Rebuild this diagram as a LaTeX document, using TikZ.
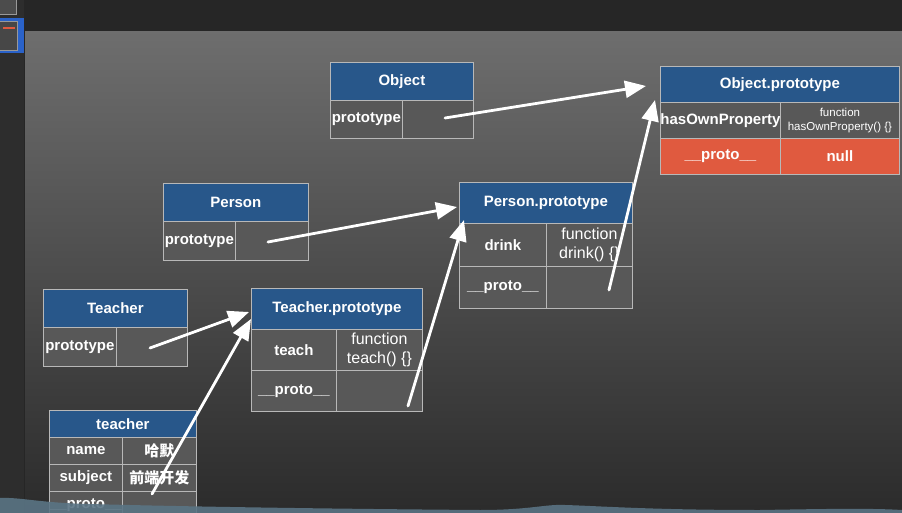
\documentclass[tikz,border=0pt]{standalone}
\usepackage{fontspec}
\setmainfont{Liberation Sans}
\newfontfamily\cjk{Noto Sans CJK SC}
\usetikzlibrary{arrows.meta, calc}
\definecolor{hblue}{HTML}{28578A}
\definecolor{cellg}{HTML}{585858}
\definecolor{lineg}{HTML}{B8B8B8}
\definecolor{cred}{HTML}{E05A3F}
\definecolor{barg}{HTML}{262626}
\definecolor{sideg}{HTML}{2D2D2D}
\definecolor{selblue}{HTML}{2A62C9}
\definecolor{wave}{HTML}{5A7484}
\tikzset{
  every picture/.style={x=1pt, y=-1pt, font=\bfseries\fontsize{15}{17}\selectfont},
  hd/.style={draw=lineg, fill=hblue, text=white, anchor=north west, inner sep=0pt, line width=0.8pt},
  cell/.style={draw=lineg, fill=cellg, text=white, anchor=north west, inner sep=0pt, line width=0.8pt},
  fn/.style={font=\mdseries\fontsize{16}{18.5}\selectfont, align=center},
  fnsmall/.style={font=\mdseries\fontsize{11.5}{13.5}\selectfont, align=center},
  chalk/.style={draw=white, line width=2.8pt, line cap=round, -{Triangle[length=21pt, width=17pt]}},
}

\begin{document}
\begin{tikzpicture}
  \clip (0,0) rectangle (902,513);
  % screen background
  \fill[sideg] (0,0) rectangle (902,513);
  \fill[barg] (24,0) rectangle (902,32);
  \shade[top color=black!57, middle color=black!68, bottom color=black!83] (24,32) rectangle (902,513);
  \draw[black!85, line width=1pt] (24,0) -- (24,513);
  % slide thumbnails
  \fill[black!70, draw=black!40] (-2,-2) rectangle (16,14);
  \fill[selblue] (0,18) rectangle (24,53);
  \fill[black!72, draw=black!40] (-2,21) rectangle (17,50);
  \fill[cred] (3,27) rectangle (15,29);

  % Object
  \node[hd, minimum width=143pt, minimum height=38pt] (obj) at (330,62) {Object};
  \node[cell, minimum width=72pt, minimum height=38pt] (obj-k) at (330,100) {prototype};
  \node[cell, minimum width=71pt, minimum height=38pt] (obj-v) at (402,100) {};
  % Object.prototype
  \node[hd, minimum width=239pt, minimum height=36pt] (op) at (660,66) {Object.prototype};
  \node[cell, minimum width=120pt, minimum height=36pt] (op-k1) at (660,102) {hasOwnProperty};
  \node[cell, minimum width=119pt, minimum height=36pt, fnsmall] (op-v1) at (780,102) {function\\hasOwnProperty() \{\}};
  \node[cell, fill=cred, minimum width=120pt, minimum height=36pt] (op-k2) at (660,138) {\_\_proto\_\_};
  \node[cell, fill=cred, minimum width=119pt, minimum height=36pt] (op-v2) at (780,138) {null};
  % Person
  \node[hd, minimum width=145pt, minimum height=38pt] (per) at (163,183) {Person};
  \node[cell, minimum width=72pt, minimum height=39pt] (per-k) at (163,221) {prototype};
  \node[cell, minimum width=73pt, minimum height=39pt] (per-v) at (235,221) {};
  % Person.prototype
  \node[hd, minimum width=173pt, minimum height=41pt] (pp) at (459,182) {Person.prototype};
  \node[cell, minimum width=87pt, minimum height=43pt] (pp-k1) at (459,223) {drink};
  \node[cell, minimum width=86pt, minimum height=43pt, fn] (pp-v1) at (546,223) {function\\drink() \{\}};
  \node[cell, minimum width=87pt, minimum height=42pt] (pp-k2) at (459,266) {\_\_proto\_\_};
  \node[cell, minimum width=86pt, minimum height=42pt] (pp-v2) at (546,266) {};
  % Teacher
  \node[hd, minimum width=144pt, minimum height=38pt] (tch) at (43,289) {Teacher};
  \node[cell, minimum width=73pt, minimum height=39pt] (tch-k) at (43,327) {prototype};
  \node[cell, minimum width=71pt, minimum height=39pt] (tch-v) at (116,327) {};
  % Teacher.prototype
  \node[hd, minimum width=171pt, minimum height=41pt] (tp) at (251,288) {Teacher.prototype};
  \node[cell, minimum width=85pt, minimum height=41pt] (tp-k1) at (251,329) {teach};
  \node[cell, minimum width=86pt, minimum height=41pt, fn] (tp-v1) at (336,329) {function\\teach() \{\}};
  \node[cell, minimum width=85pt, minimum height=41pt] (tp-k2) at (251,370) {\_\_proto\_\_};
  \node[cell, minimum width=86pt, minimum height=41pt] (tp-v2) at (336,370) {};
  % teacher instance
  \node[hd, minimum width=147pt, minimum height=27pt] (ins) at (49,410) {teacher};
  \foreach \k/\v [count=\i] in {name/哈默, subject/前端开发, \_\_proto\_\_/} {
    \node[cell, minimum width=73pt, minimum height=27pt] (ins-k\i) at (49,410+27*\i) {\k};
    \node[cell, minimum width=74pt, minimum height=27pt] (ins-v\i) at (122,410+27*\i) {\cjk\v};
  }

  % chalk arrows
  \coordinate (s1) at (445,118);  \coordinate (e1) at (646,86);
  \coordinate (s2) at (609,290);  \coordinate (e2) at (655,100);
  \coordinate (s3) at (268,242);  \coordinate (e3) at (457,207);
  \coordinate (s4) at (408,406);  \coordinate (e4) at (464,220);
  \coordinate (s5) at (150,348);  \coordinate (e5) at (249,312);
  \coordinate (s6) at (152,494);  \coordinate (e6) at (251,319);
  \foreach \n in {1,...,6} \draw[chalk] (s\n) -- (e\n);

  % bottom edge
  \fill[wave, opacity=0.9] (0,513) -- (0,498) .. controls (20,497) and (40,503) .. (90,504)
    .. controls (200,507) and (350,509) .. (480,510)
    .. controls (530,510) and (545,504) .. (565,505)
    .. controls (600,506) and (650,510) .. (760,510)
    .. controls (820,509) and (870,508) .. (902,510) -- (902,513) -- cycle;
\end{tikzpicture}
\end{document}
